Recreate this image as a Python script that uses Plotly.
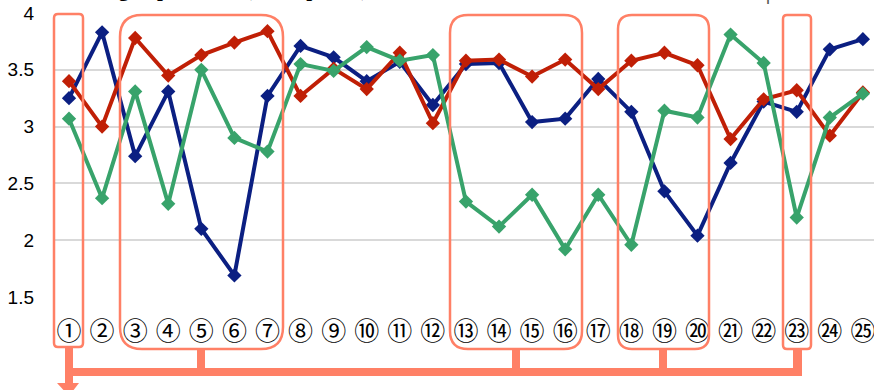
import plotly.graph_objects as go

categories = list(range(1, 26))
tick_labels = ["①", "②", "③", "④", "⑤", "⑥", "⑦", "⑧", "⑨", "⑩", "⑪", "⑫", "⑬",
               "⑭", "⑮", "⑯", "⑰", "⑱", "⑲", "⑳", "㉑", "㉒", "㉓", "㉔", "㉕"]
doctor = [3.25, 3.83, 2.74, 3.31, 2.10, 1.69, 3.27, 3.71, 3.61, 3.40, 3.57, 3.19, 3.55,
          3.56, 3.04, 3.07, 3.42, 3.13, 2.43, 2.04, 2.68, 3.22, 3.13, 3.68, 3.77]
nurse = [3.40, 3.00, 3.78, 3.45, 3.63, 3.74, 3.84, 3.27, 3.51, 3.33, 3.65, 3.03, 3.58,
         3.59, 3.44, 3.59, 3.33, 3.58, 3.65, 3.54, 2.89, 3.24, 3.32, 2.92, 3.30]
paramedic = [3.07, 2.37, 3.31, 2.32, 3.50, 2.90, 2.78, 3.55, 3.49, 3.70, 3.58, 3.63, 2.34,
             2.12, 2.40, 1.92, 2.40, 1.96, 3.14, 3.08, 3.81, 3.56, 2.20, 3.08, 3.29]
series_names = ["Doctor", "Nurse", "Hospital Paramedic"]
colors = ["#0B1F82", "#C01F06", "#38A36B"]

W, H = 874, 390
ML, MR, MT, MB = 53, 0, 13, 93
PW, PH = W - ML - MR, H - MT - MB


def fx(px):
    return (px - ML) / PW


def fy(py):
    return (H - MB - py) / PH


def rrect(x0, y0, x1, y1, r):
    pts = [
        f"M {fx(x0 + r)},{fy(y0)}",
        f"L {fx(x1 - r)},{fy(y0)}",
        f"Q {fx(x1)},{fy(y0)} {fx(x1)},{fy(y0 + r)}",
        f"L {fx(x1)},{fy(y1 - r)}",
        f"Q {fx(x1)},{fy(y1)} {fx(x1 - r)},{fy(y1)}",
        f"L {fx(x0 + r)},{fy(y1)}",
        f"Q {fx(x0)},{fy(y1)} {fx(x0)},{fy(y1 - r)}",
        f"L {fx(x0)},{fy(y0 + r)}",
        f"Q {fx(x0)},{fy(y0)} {fx(x0 + r)},{fy(y0)}",
        "Z",
    ]
    return " ".join(pts)


fig = go.Figure()
for name, vals, col in zip(series_names, [doctor, nurse, paramedic], colors):
    fig.add_trace(go.Scatter(
        x=categories, y=vals, name=name, mode="lines+markers",
        line=dict(color=col, width=4),
        marker=dict(symbol="diamond", size=11, color=col),
    ))

SAL = "#FF8066"
shapes = []
boxes = [(54, 14, 83, 347, 4), (120, 15, 283, 349, 22), (450, 15, 582, 349, 18),
         (618, 15, 709, 349, 14), (783, 15, 811, 349, 4)]
for b in boxes:
    shapes.append(dict(type="path", xref="paper", yref="paper", path=rrect(*b),
                       line=dict(color=SAL, width=2.5), layer="above"))


def frect(x0, y0, x1, y1):
    return dict(type="rect", xref="paper", yref="paper", x0=fx(x0), x1=fx(x1),
                y0=fy(y1), y1=fy(y0), fillcolor=SAL, line=dict(width=0), layer="above")


shapes.append(frect(65, 368, 802, 376))
for cx in [201, 516, 663]:
    shapes.append(frect(cx - 4, 349, cx + 4, 370))
shapes.append(frect(793, 349, 802, 376))
shapes.append(frect(65, 347, 73, 384))
shapes.append(dict(type="path", xref="paper", yref="paper",
                   path=f"M {fx(57)},{fy(383)} L {fx(79)},{fy(383)} L {fx(69)},{fy(396)} Z",
                   fillcolor=SAL, line=dict(width=0), layer="above"))

fig.update_layout(
    width=W, height=H,
    margin=dict(l=ML, r=MR, t=MT, b=MB, autoexpand=False),
    paper_bgcolor="white", plot_bgcolor="white",
    shapes=shapes,
    showlegend=True,
    legend=dict(orientation="h", x=fx(480), xanchor="left", y=fy(11.5), yanchor="bottom",
                font=dict(family="Liberation Sans", size=18, color="#595959"),
                bgcolor="rgba(0,0,0,0)", entrywidth=62, entrywidthmode="pixels"),
    xaxis=dict(range=[0.516, 25.336], tickvals=categories, ticktext=tick_labels,
               showgrid=False, zeroline=False, showline=False,
               ticks="outside", ticklen=12, tickcolor="rgba(0,0,0,0)",
               ticklabeloverflow="allow",
               tickfont=dict(family="Noto Sans CJK JP", size=25, color="black")),
    yaxis=dict(range=[1.5, 4], tickvals=[1.5, 2, 2.5, 3, 3.5, 4],
               ticktext=["1.5", "2", "2.5", "3", "3.5", "4"],
               showgrid=True, gridcolor="#D9D9D9", gridwidth=2, zeroline=False,
               showline=False, ticks="", ticklabelstandoff=18,
               tickfont=dict(family="Liberation Sans", size=19, color="black")),
    annotations=[dict(text="<b>Ranking of priorities (mean points)</b>", xref="paper", yref="paper",
                      x=fx(50), y=fy(3), xanchor="left", yanchor="bottom", showarrow=False,
                      font=dict(family="Liberation Serif", size=21, color="black"))],
)

fig.write_html("out.html")
